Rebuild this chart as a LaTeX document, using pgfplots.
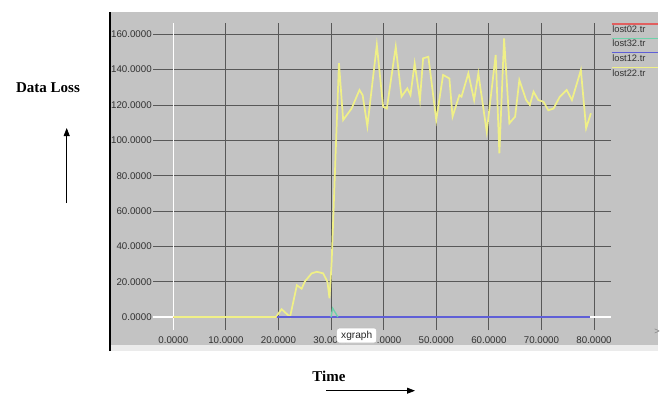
\documentclass[border=0pt]{standalone}
\usepackage{pgfplots}
\pgfplotsset{compat=1.18}
\usepackage{fontspec}
\setmainfont{Liberation Sans}
\newfontfamily\seriffont{Liberation Serif}
\usetikzlibrary{arrows.meta}
\definecolor{bg}{RGB}{195,195,195}
\definecolor{gridc}{RGB}{88,88,88}
\definecolor{ylw}{RGB}{240,240,135}
\definecolor{blu}{RGB}{95,95,215}
\definecolor{grn}{RGB}{110,210,170}
\definecolor{redc}{RGB}{225,95,95}
\definecolor{txt}{RGB}{50,50,50}
\begin{document}
\begin{tikzpicture}[x=0.75pt,y=0.75pt]
\path[use as bounding box] (0,0) rectangle (664,394);
\fill[bg] (110,49) rectangle (658,382);
\fill[black!8] (110,43) rectangle (658,49);
\draw[black, line width=1.8pt] (110,43) -- (110,382);
\begin{axis}[
  at={(114.75pt,48pt)}, anchor=south west,
  scale only axis, width=343.5pt, height=230.25pt,
  xmin=-3.86, xmax=83.23, ymin=-7.36, ymax=166.4,
  axis line style={draw=none}, tick style={draw=none},
  xtick={10,20,...,80}, ytick={20,40,...,160},
  extra x ticks={0}, extra y ticks={0},
  extra tick style={grid style={white, line width=0.9pt}},
  grid=major, grid style={gridc, line width=0.7pt},
  tick label style={font=\fontsize{7.3}{8}\selectfont, text=txt, inner sep=0pt,
    /pgf/number format/fixed, /pgf/number format/fixed zerofill,
    /pgf/number format/precision=4, /pgf/number format/assume math mode=true},
  xticklabel style={anchor=center, yshift=-7.5pt},
  yticklabel style={anchor=east, xshift=-0.75pt},
  no markers,
]
\addplot[redc, line width=0.4pt] coordinates {(0,0) (79.2,0)};
\addplot[ylw, line width=1.3pt] coordinates {
(0,0) (19.5,0) (20.6,4.4) (22.2,0) (23.5,18) (24.4,16) (25,20) (26.3,24.7)
(27.3,25.6) (28.5,24.7) (29.3,20) (29.7,10.6) (30.1,30.4) (31.5,143.6)
(32.3,111.5) (33.9,118) (35.4,128.5) (36,125.6) (36.9,108) (38.7,154)
(39.9,119) (40.6,118) (42.3,153) (43.4,124.7) (44.5,129.4) (45.1,125.6)
(45.9,143.6) (46.9,122.8) (47.5,146.4) (48.5,147.3) (50,111.5) (51.3,137)
(52.5,135) (53.1,113.4) (54.4,125.6) (54.8,124.7) (56.1,137.9) (57.2,122.8)
(58,137.9) (59.6,104.9) (61.3,148.3) (62,92.6) (62.9,157.7) (63.9,109.6)
(65,113.4) (65.8,134.1) (67.1,122.8) (67.8,120) (68.5,127.5) (69.4,122.8)
(70.4,121.8) (71.3,117) (72.3,118) (73.5,124.7) (74.8,128.5) (75.8,122.8)
(77.5,139.8) (78.5,106.8) (79.4,115.3)};
\addplot[blu, line width=1pt] coordinates {(19.7,0) (79.2,0)};
\addplot[grn, line width=1pt] coordinates {(30,0) (30.3,5) (31.3,0)};
\end{axis}
% legend
\draw[redc, line width=0.8pt] (611.5,370) -- (658,370);
\draw[grn, line width=0.8pt] (611.5,355.3) -- (658,355.3);
\draw[blu, line width=0.8pt] (611.5,341.3) -- (658,341.3);
\draw[ylw, line width=0.8pt] (611.5,326.7) -- (658,326.7);
\begin{scope}[every node/.style={anchor=west, inner sep=0pt, font=\fontsize{7}{8}\selectfont, text=txt}]
\node at (612,365) {lost02.tr};
\node at (612,350.7) {lost32.tr};
\node at (612,335.7) {lost12.tr};
\node at (612,321.3) {lost22.tr};
\end{scope}
% tooltip
\node[draw=black!25, fill=white, rounded corners=2pt, minimum width=30pt, minimum height=11.25pt,
  inner sep=0pt, font=\fontsize{7.6}{9}\selectfont, text=black!85] at (356.7,58.5) {xgraph};
\node[text=black!50, font=\fontsize{7}{8}\selectfont, inner sep=0pt] at (657,62) {>};
% outside labels
\node[font=\seriffont\bfseries\fontsize{11.25}{13}\selectfont, inner sep=0pt] at (48,306.5) {Data Loss};
\draw[-{Triangle[length=6pt,width=4.5pt]}, line width=0.6pt] (66.7,191) -- (66.7,266);
\node[font=\seriffont\bfseries\fontsize{11.25}{13}\selectfont, inner sep=0pt] at (329,18) {Time};
\draw[-{Triangle[length=6pt,width=4.5pt]}, line width=0.6pt] (326,3.3) -- (415,3.3);
\end{tikzpicture}
\end{document}
